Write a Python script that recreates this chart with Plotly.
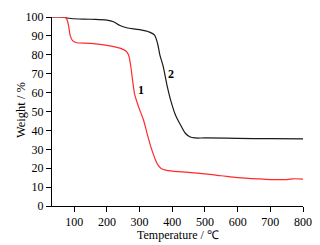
import plotly.graph_objects as go

temp1 = [30, 60, 75, 82, 88, 95, 105, 150, 200, 240, 258, 266, 272, 279, 285, 292, 300, 312, 325, 335, 345, 355, 365, 380, 400, 450, 500, 550, 600, 650, 700, 750, 770, 800]
weight1 = [100, 100, 99.5, 96, 90, 87.5, 86.5, 86, 85, 83.5, 82, 80, 75, 66, 59, 55, 51, 45.5, 37, 31, 26, 22, 20, 19, 18.5, 17.8, 17, 16, 15, 14.5, 14, 14, 14.4, 14.2]

temp2 = [30, 60, 90, 150, 200, 220, 240, 260, 300, 330, 345, 355, 362, 372, 385, 395, 410, 425, 440, 455, 470, 500, 600, 700, 800]
weight2 = [100, 100, 99.2, 98.8, 98.3, 97.5, 95.5, 94.3, 93.3, 92, 90.5, 86, 80, 74, 63, 56, 48, 43, 38.5, 36.5, 36, 36, 35.8, 35.6, 35.5]

labels = ["1", "2"]
label_x = [304, 397]
label_y = [61.5, 70]

x_title = "Temperature / ℃"
y_title = "Weight / %"

FONT = "Liberation Serif"

fig = go.Figure()
fig.add_trace(go.Scatter(x=temp2, y=weight2, mode="lines", line=dict(color="#1a1a1a", width=1.2), line_shape="spline", showlegend=False))
fig.add_trace(go.Scatter(x=temp1, y=weight1, mode="lines", line=dict(color="#ff2a2a", width=1.2), line_shape="spline", showlegend=False))
for t, x, y in zip(labels, label_x, label_y):
    fig.add_annotation(x=x, y=y, text="<b>" + t + "</b>", showarrow=False,
                       font=dict(family=FONT, size=12, color="black"))

fig.add_annotation(x=0.5, y=-0.155, xref="paper", yref="paper", text=x_title, showarrow=False,
                   xanchor="center", yanchor="middle", font=dict(family=FONT, size=12, color="black"))
fig.add_annotation(x=-0.1235, y=0.508, xref="paper", yref="paper", text=y_title, showarrow=False,
                   textangle=-90, xanchor="center", yanchor="middle", font=dict(family=FONT, size=12.5, color="black"))

axis_common = dict(showline=True, linecolor="black", linewidth=1, ticks="outside", ticklen=5,
                   tickcolor="black", showgrid=False, zeroline=False, mirror=False, automargin=False,
                   tickfont=dict(family=FONT, size=12, color="black"))
fig.update_xaxes(range=[32, 800], tickvals=[100, 200, 300, 400, 500, 600, 700, 800], **axis_common)
fig.update_yaxes(range=[0, 100], tickvals=[0, 10, 20, 30, 40, 50, 60, 70, 80, 90, 100], **axis_common)
fig.update_layout(template="none", width=304, height=237, margin=dict(l=44, r=9, t=9, b=39),
                  plot_bgcolor="white", paper_bgcolor="white")
fig.write_html("out.html")
